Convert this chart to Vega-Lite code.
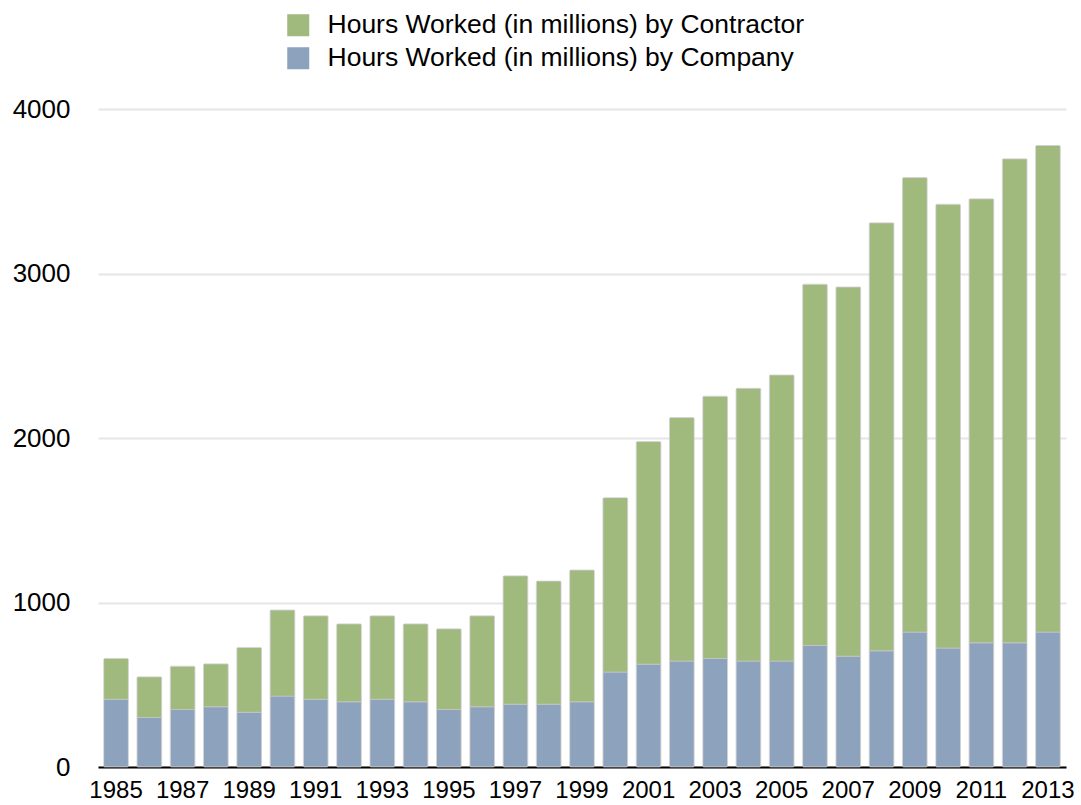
{
  "$schema": "https://vega.github.io/schema/vega-lite/v6.json",
  "autosize": "none",
  "width": 968,
  "height": 658,
  "padding": {"left": 98, "top": 109, "right": 15, "bottom": 38},
  "background": "#ffffff",
  "config": {"view": {"stroke": null}, "font": "Liberation Sans"},
  "data": {"values": [
    {"year": 1985, "series": "Hours Worked (in millions) by Company", "value": 412},
    {"year": 1985, "series": "Hours Worked (in millions) by Contractor", "value": 248},
    {"year": 1986, "series": "Hours Worked (in millions) by Company", "value": 301},
    {"year": 1986, "series": "Hours Worked (in millions) by Contractor", "value": 247},
    {"year": 1987, "series": "Hours Worked (in millions) by Company", "value": 350},
    {"year": 1987, "series": "Hours Worked (in millions) by Contractor", "value": 263},
    {"year": 1988, "series": "Hours Worked (in millions) by Company", "value": 366},
    {"year": 1988, "series": "Hours Worked (in millions) by Contractor", "value": 261},
    {"year": 1989, "series": "Hours Worked (in millions) by Company", "value": 333},
    {"year": 1989, "series": "Hours Worked (in millions) by Contractor", "value": 394},
    {"year": 1990, "series": "Hours Worked (in millions) by Company", "value": 431},
    {"year": 1990, "series": "Hours Worked (in millions) by Contractor", "value": 523},
    {"year": 1991, "series": "Hours Worked (in millions) by Company", "value": 412},
    {"year": 1991, "series": "Hours Worked (in millions) by Contractor", "value": 507},
    {"year": 1992, "series": "Hours Worked (in millions) by Company", "value": 396},
    {"year": 1992, "series": "Hours Worked (in millions) by Contractor", "value": 474},
    {"year": 1993, "series": "Hours Worked (in millions) by Company", "value": 412},
    {"year": 1993, "series": "Hours Worked (in millions) by Contractor", "value": 507},
    {"year": 1994, "series": "Hours Worked (in millions) by Company", "value": 396},
    {"year": 1994, "series": "Hours Worked (in millions) by Contractor", "value": 474},
    {"year": 1995, "series": "Hours Worked (in millions) by Company", "value": 350},
    {"year": 1995, "series": "Hours Worked (in millions) by Contractor", "value": 490},
    {"year": 1996, "series": "Hours Worked (in millions) by Company", "value": 366},
    {"year": 1996, "series": "Hours Worked (in millions) by Contractor", "value": 553},
    {"year": 1997, "series": "Hours Worked (in millions) by Company", "value": 382},
    {"year": 1997, "series": "Hours Worked (in millions) by Contractor", "value": 780},
    {"year": 1998, "series": "Hours Worked (in millions) by Company", "value": 382},
    {"year": 1998, "series": "Hours Worked (in millions) by Contractor", "value": 748},
    {"year": 1999, "series": "Hours Worked (in millions) by Company", "value": 396},
    {"year": 1999, "series": "Hours Worked (in millions) by Contractor", "value": 801},
    {"year": 2000, "series": "Hours Worked (in millions) by Company", "value": 577},
    {"year": 2000, "series": "Hours Worked (in millions) by Contractor", "value": 1060},
    {"year": 2001, "series": "Hours Worked (in millions) by Company", "value": 625},
    {"year": 2001, "series": "Hours Worked (in millions) by Contractor", "value": 1353},
    {"year": 2002, "series": "Hours Worked (in millions) by Company", "value": 644},
    {"year": 2002, "series": "Hours Worked (in millions) by Contractor", "value": 1480},
    {"year": 2003, "series": "Hours Worked (in millions) by Company", "value": 660},
    {"year": 2003, "series": "Hours Worked (in millions) by Contractor", "value": 1594},
    {"year": 2004, "series": "Hours Worked (in millions) by Company", "value": 644},
    {"year": 2004, "series": "Hours Worked (in millions) by Contractor", "value": 1658},
    {"year": 2005, "series": "Hours Worked (in millions) by Company", "value": 644},
    {"year": 2005, "series": "Hours Worked (in millions) by Contractor", "value": 1739},
    {"year": 2006, "series": "Hours Worked (in millions) by Company", "value": 739},
    {"year": 2006, "series": "Hours Worked (in millions) by Contractor", "value": 2196},
    {"year": 2007, "series": "Hours Worked (in millions) by Company", "value": 674},
    {"year": 2007, "series": "Hours Worked (in millions) by Contractor", "value": 2244},
    {"year": 2008, "series": "Hours Worked (in millions) by Company", "value": 706},
    {"year": 2008, "series": "Hours Worked (in millions) by Contractor", "value": 2602},
    {"year": 2009, "series": "Hours Worked (in millions) by Company", "value": 820},
    {"year": 2009, "series": "Hours Worked (in millions) by Contractor", "value": 2763},
    {"year": 2010, "series": "Hours Worked (in millions) by Company", "value": 723},
    {"year": 2010, "series": "Hours Worked (in millions) by Contractor", "value": 2698},
    {"year": 2011, "series": "Hours Worked (in millions) by Company", "value": 755},
    {"year": 2011, "series": "Hours Worked (in millions) by Contractor", "value": 2699},
    {"year": 2012, "series": "Hours Worked (in millions) by Company", "value": 755},
    {"year": 2012, "series": "Hours Worked (in millions) by Contractor", "value": 2942},
    {"year": 2013, "series": "Hours Worked (in millions) by Company", "value": 820},
    {"year": 2013, "series": "Hours Worked (in millions) by Contractor", "value": 2958}
  ]},
  "mark": {"type": "bar", "stroke": "#c8c8c8", "strokeWidth": 1, "strokeOpacity": 0.7, "cornerRadius": 1},
  "encoding": {
    "x": {
      "field": "year", "type": "ordinal",
      "scale": {"paddingInner": 0.258, "paddingOuter": 0.171},
      "axis": {
        "title": null, "labelAngle": 0, "ticks": false,
        "values": [1985,1987,1989,1991,1993,1995,1997,1999,2001,2003,2005,2007,2009,2011,2013],
        "labelFont": "Liberation Sans", "labelFontSize": 24, "labelColor": "#000000",
        "labelPadding": 11, "domainColor": "#000000", "domainWidth": 2
      }
    },
    "y": {
      "field": "value", "type": "quantitative", "aggregate": "sum", "stack": "zero",
      "scale": {"domain": [0, 4000]},
      "axis": {
        "title": null, "values": [0, 1000, 2000, 3000, 4000], "format": "d", "ticks": false, "domain": false,
        "labelFont": "Liberation Sans", "labelFontSize": 26, "labelColor": "#000000",
        "labelPadding": 28, "gridColor": "#e6e6e6", "gridWidth": 2
      }
    },
    "color": {
      "field": "series", "type": "nominal",
      "scale": {
        "domain": ["Hours Worked (in millions) by Contractor", "Hours Worked (in millions) by Company"],
        "range": ["#a0b97c", "#8ca2bd"]
      },
      "legend": {
        "title": null, "orient": "none", "legendX": 187, "legendY": -97,
        "direction": "vertical", "symbolType": "square", "symbolSize": 484,
        "symbolStrokeWidth": 0, "symbolOpacity": 1,
        "labelFont": "Liberation Sans", "labelFontSize": 26.5, "labelColor": "#000000",
        "labelOffset": 16, "rowPadding": 6, "labelLimit": 700
      }
    },
    "order": {"field": "series", "sort": "ascending"}
  }
}
